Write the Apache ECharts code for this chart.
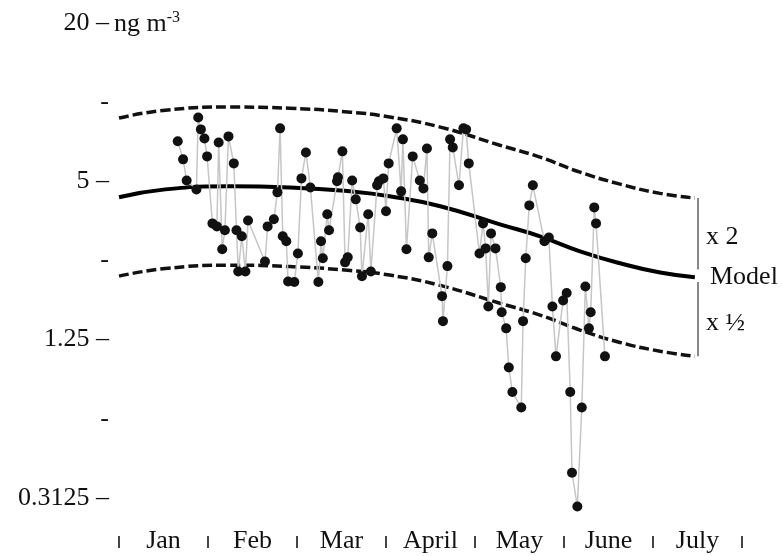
<!DOCTYPE html>
<html>
<head>
<meta charset="utf-8">
<script src="https://cdn.jsdelivr.net/npm/echarts@6/dist/echarts.min.js"></script>
<style>
html,body{margin:0;padding:0;background:#fff;}
#chart{width:782px;height:556px;}
</style>
</head>
<body>
<div id="chart"></div>
<script>
// ---- data (concentration, ng m-3) ----
const months = ['Jan', 'Feb', 'Mar', 'April', 'May', 'June', 'July'];
const yTickLabels = ['0.3125 \u2013', '-', '1.25 \u2013', '-', '5 \u2013', '-', '20 \u2013'];
const yBase = 0.3125;

// observations: x in months since 1 Jan, value in ng m-3
const obsX = [0.66,0.72,0.76,0.87,0.89,0.92,0.96,0.99,1.05,1.10,1.12,1.16,1.19,1.23,1.29,1.32,1.34,1.38,1.42,1.45,
  1.64,1.67,1.74,1.78,1.81,1.84,1.88,1.90,1.97,2.01,2.05,2.10,2.15,2.24,2.27,2.29,2.34,2.36,2.45,2.46,
  2.51,2.54,2.57,2.62,2.66,2.71,2.73,2.80,2.83,2.90,2.92,2.97,3.00,3.03,3.12,3.17,3.19,3.23,3.30,3.38,
  3.42,3.46,3.48,3.52,3.63,3.64,3.69,3.72,3.75,3.82,3.87,3.90,3.93,4.05,4.09,4.12,4.15,4.18,4.23,4.29,
  4.30,4.35,4.38,4.42,4.52,4.54,4.57,4.61,4.65,4.78,4.83,4.87,4.91,4.99,5.03,5.07,5.09,5.15,5.20,5.24,
  5.28,5.30,5.34,5.36,5.46];
const obsY = [7.10,6.06,5.04,4.66,8.75,7.88,7.28,6.22,3.46,3.37,7.03,2.76,3.26,7.41,5.85,3.26,2.27,3.09,2.27,3.55,
  2.48,3.37,3.59,4.54,7.95,3.09,2.96,2.08,2.07,2.66,5.13,6.44,4.74,2.07,2.96,2.55,3.75,3.26,5.00,5.18,
  6.50,2.46,2.57,5.04,4.27,3.34,2.18,3.75,2.27,4.83,5.00,5.13,3.85,5.85,7.95,4.58,7.22,2.76,6.22,5.04,
  4.70,6.67,2.57,3.17,1.83,1.47,2.38,7.22,6.73,4.83,7.95,7.88,5.85,2.66,3.46,2.78,1.67,3.17,2.78,1.98,
  1.59,1.38,0.98,0.79,0.69,1.47,2.55,4.05,4.83,2.96,3.06,1.67,1.08,1.76,1.88,0.79,0.39,0.29,0.69,1.99,
  1.38,1.59,3.98,3.46,1.08];

// model and its x2 / x1/2 envelope
const modelX = [0.00,0.52,1.25,1.92,2.60,3.04,3.61,4.28,4.73,5.18,5.63,6.08,6.47];
const modelY = [4.35,4.66,4.79,4.74,4.58,4.39,4.02,3.43,3.09,2.71,2.44,2.25,2.16];
const upperY = [8.70,9.32,9.58,9.48,9.16,8.78,8.04,6.86,6.18,5.42,4.88,4.50,4.32];
const lowerY = [2.18,2.33,2.40,2.37,2.29,2.20,2.01,1.72,1.55,1.36,1.22,1.13,1.08];
const bracketX = 6.5;
const bracketRanges = [[4.32, 2.31], [2.07, 1.08]];

// ---- build ----
const toAxis = v => Math.log2(v / yBase);
const pairs = (xs, ys) => xs.map((x, i) => [x, toAxis(ys[i])]);
const FONT = '"Liberation Serif", "Times New Roman", serif';

const chart = echarts.init(document.getElementById('chart'), null, {renderer: 'canvas'});
chart.setOption({
  animation: false,
  backgroundColor: '#fff',
  grid: [
    {left: 119, right: 40, top: 23, bottom: 58, containLabel: false},
    {left: 119, right: 40, top: 535, height: 1, containLabel: false}
  ],
  xAxis: [
    {
      type: 'value', gridIndex: 0, min: 0, max: 7, show: false, splitLine: {show: false}
    },
    {
      type: 'category', gridIndex: 1, data: months, boundaryGap: true, position: 'bottom',
      axisLine: {show: false},
      axisTick: {show: true, inside: false, length: 12, lineStyle: {color: '#444', width: 2}},
      axisLabel: {margin: 5, color: '#111', fontFamily: FONT, fontSize: 26, verticalAlign: 'middle'},
      splitLine: {show: false}
    }
  ],
  yAxis: [
    {
      type: 'value', gridIndex: 0, min: 0, max: 6, interval: 1,
      axisLine: {show: false}, axisTick: {show: false}, splitLine: {show: false},
      axisLabel: {
        margin: 10, color: '#111', fontFamily: FONT, fontSize: 26,
        formatter: (v) => yTickLabels[Math.round(v)]
      }
    },
    {type: 'value', gridIndex: 1, show: false, min: 0, max: 1, splitLine: {show: false}}
  ],
  graphic: [
    {type: 'text', left: 114, top: 10, style: {
      text: '{a|ng m}{s|-3}', font: '26px ' + FONT, fill: '#111',
      rich: {a: {fontFamily: FONT, fontSize: 26, fill: '#111'},
             s: {fontFamily: FONT, fontSize: 16, fill: '#111', padding: [0, 0, 12, 0]}}
    }},
    {type: 'text', left: 706, top: 224, style: {text: 'x 2', font: '26px ' + FONT, fill: '#111'}},
    {type: 'text', left: 710, top: 264, style: {text: 'Model', font: '26px ' + FONT, fill: '#111'}},
    {type: 'text', left: 706, top: 310, style: {text: 'x \u00BD', font: '26px ' + FONT, fill: '#111'}}
  ],
  series: [
    {
      type: 'line', data: pairs(modelX, upperY), smooth: true, symbol: 'none',
      lineStyle: {color: '#111', width: 3.5, type: [10, 4]}, z: 2, silent: true
    },
    {
      type: 'line', data: pairs(modelX, lowerY), smooth: true, symbol: 'none',
      lineStyle: {color: '#111', width: 3.5, type: [10, 4]}, z: 2, silent: true
    },
    {
      type: 'line', data: pairs(modelX, modelY), smooth: true, symbol: 'none',
      lineStyle: {color: '#000', width: 4}, z: 3, silent: true,
      markLine: {
        silent: true, symbol: 'none', label: {show: false},
        lineStyle: {color: '#888', width: 2, type: 'solid'},
        data: bracketRanges.map(r => [{coord: [bracketX, toAxis(r[0])]}, {coord: [bracketX, toAxis(r[1])]}])
      }
    },
    {
      type: 'line', data: pairs(obsX, obsY), clip: false,
      symbol: 'circle', symbolSize: 10, showAllSymbol: true,
      itemStyle: {color: '#111'},
      lineStyle: {color: '#c6c6c6', width: 1.5}, z: 4
    }
  ]
});
</script>
</body>
</html>
